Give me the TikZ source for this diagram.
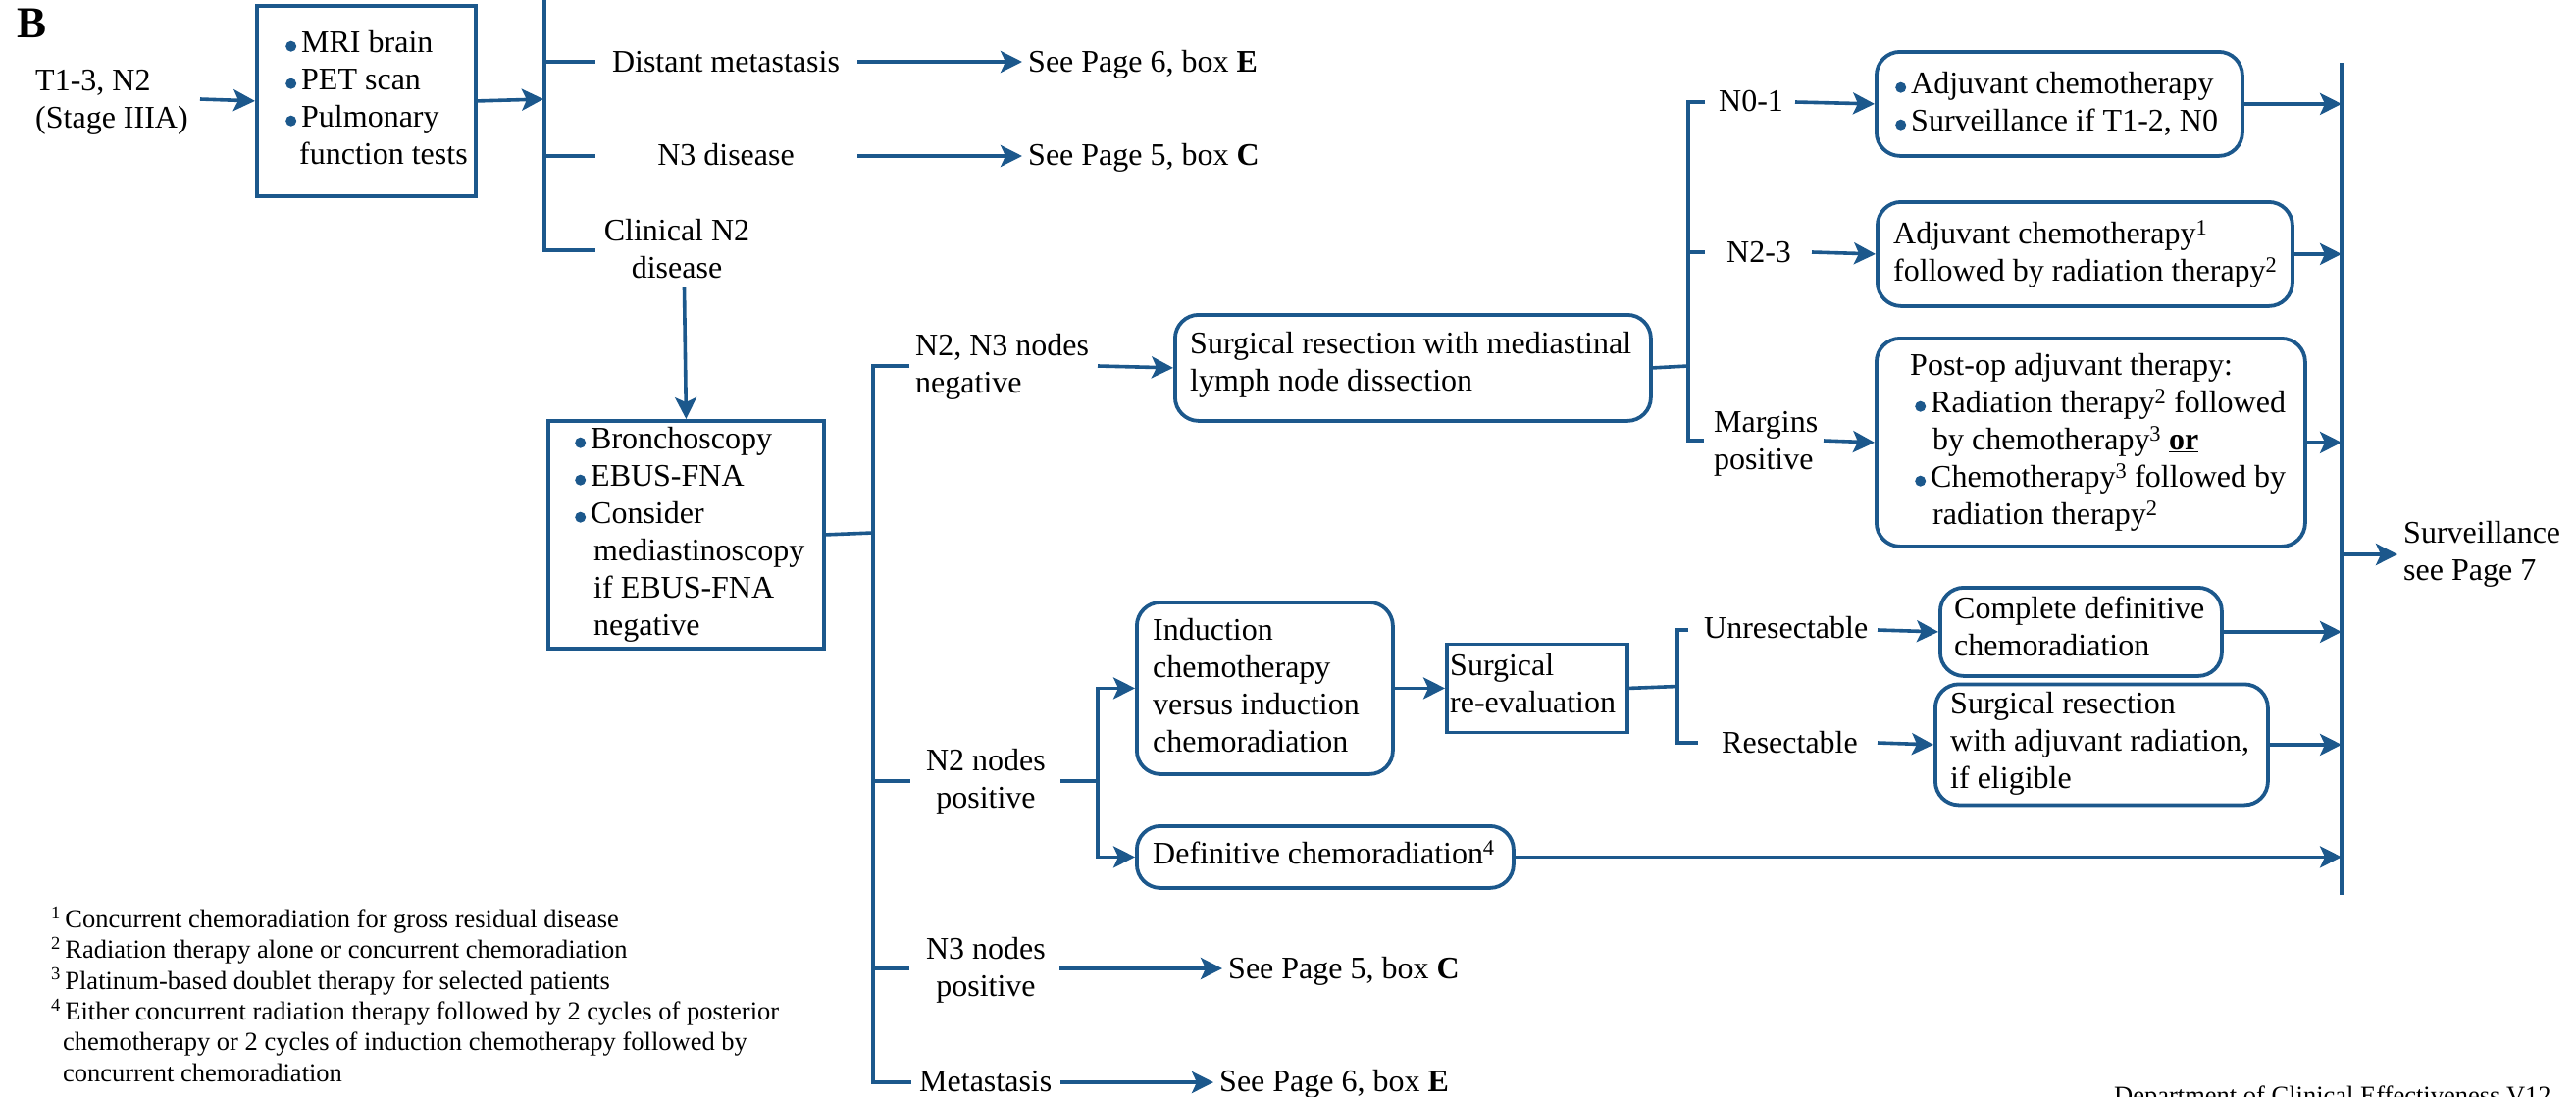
\documentclass[tikz,border=0pt]{standalone}
\usepackage{fontspec}
\setmainfont{Liberation Serif}
\usetikzlibrary{arrows.meta}
\definecolor{nccn}{RGB}{28,88,140}
\newcommand\mainfs{\fontsize{32}{38}\selectfont}
\newcommand\notefs{\fontsize{26.5}{31.4}\selectfont}
\newcommand\mystrut{\rule{0pt}{30pt}}
\newcommand\notestrut{\rule{0pt}{24pt}}
\newcommand\nbul{\tikz[baseline=0pt]\fill[nccn] (5.5pt,6pt) circle[radius=5.5pt];\hspace{5pt}}
\begin{document}
\begin{tikzpicture}[x=1pt,y=-1pt,
  ln/.style={draw=nccn,line width=3.6pt},
  arr/.style={ln,-{Stealth[length=22pt,width=22pt,inset=5pt]}},
  sqbox/.style={draw=nccn,line width=3.8pt,rectangle,inner sep=0pt,anchor=north west},
  rbox/.style={sqbox,rounded corners=24pt},
  txt/.style={inner sep=0pt,font=\mainfs,align=left,anchor=north west},
  ctxt/.style={inner sep=0pt,font=\mainfs,align=center,anchor=north},
  lbl/.style={inner sep=0pt,font=\mainfs,anchor=base west},
  clbl/.style={inner sep=0pt,font=\mainfs,anchor=base},
  see/.style={inner xsep=6pt,inner ysep=0pt,font=\mainfs,anchor=base west},
]
\useasboundingbox (0,0) rectangle (2626,1117);
\clip (0,0) rectangle (2626,1117);

% title letter
\node[inner sep=0pt,font=\fontsize{45}{50}\selectfont\bfseries,anchor=base west] (lbB) at (17,38) {B};

% start and first box
\node[txt] (start) at (36,62) {\mystrut T1-3, N2\\(Stage IIIA)};
\node[sqbox,minimum width=223pt,minimum height=194pt] (b1) at (260,4) {};
\node[txt] (b1t) at (291,23) {\mystrut\nbul MRI brain\\\nbul PET scan\\\nbul Pulmonary\\\hspace*{14pt}function tests};
\coordinate (a0) at (204,101);
\draw[arr] (a0) -- (b1.west);

% bracket 1
\coordinate (br1t) at (555,0);
\coordinate (br1) at (554,101);
\coordinate (s1) at (607,63);
\coordinate (s2) at (607,159);
\coordinate (s3) at (607,255);
\draw[arr] (b1.east) -- (br1);
\draw[ln] (br1t) -- (br1t |- s3) -- (s3);
\draw[ln] (s1 -| br1t) -- (s1);
\draw[ln] (s2 -| br1t) -- (s2);

\node[clbl] (dm) at (740,73) {Distant metastasis};
\node[clbl] (n3d) at (740,168) {N3 disease};
\coordinate (a1) at (874,63);
\coordinate (a2) at (874,159);
\node[see] (p6a) at (1042,73) {See Page 6, box \textbf{E}};
\node[see] (p5a) at (1042,168) {See Page 5, box \textbf{C}};
\draw[arr] (a1) -- (a1 -| p6a.west);
\draw[arr] (a2) -- (a2 -| p5a.west);

% clinical N2
\node[ctxt] (cn2) at (690,215) {\mystrut Clinical N2\\disease};
\node[sqbox,minimum width=281pt,minimum height=232pt] (b2) at (557,427) {};
\coordinate (cn2b) at (697.5,293);
\draw[arr] (cn2b) -- (b2.north);
\node[txt] (b2t) at (586,427) {\mystrut\nbul Bronchoscopy\\\nbul EBUS-FNA\\\nbul Consider\\\hspace*{19pt}mediastinoscopy\\\hspace*{19pt}if EBUS-FNA\\\hspace*{19pt}negative};

% bracket 2
\coordinate (br2) at (890,543);
\draw[ln] (b2.east) -- (br2);
\coordinate (t1) at (927,373);
\coordinate (t2) at (928,796);
\coordinate (t3) at (927,987);
\coordinate (t4) at (929,1103);
\draw[ln] (t1) -- (t1 -| br2) -- (t4 -| br2) -- (t4);
\draw[ln] (t2 -| br2) -- (t2);
\draw[ln] (t3 -| br2) -- (t3);

% N2, N3 negative branch
\node[txt] (neg) at (933,332) {\mystrut N2, N3 nodes\\negative};
\node[rbox,minimum width=485pt,minimum height=108pt] (surg) at (1196,319) {};
\node[txt] (surgt) at (1213,330) {\mystrut Surgical resection with mediastinal\\lymph node dissection};
\coordinate (c1) at (1119,373);
\draw[arr] (c1) -- (surg.west);

% bracket 3
\coordinate (br3) at (1721,373);
\draw[ln] (surg.east) -- (br3);
\coordinate (v1) at (1738,104);
\coordinate (v2) at (1738,257);
\coordinate (v3) at (1737,449);
\draw[ln] (v1) -- (v1 -| br3) -- (v3 -| br3) -- (v3);
\draw[ln] (v2 -| br3) -- (v2);
\node[lbl] (n01) at (1752,113) {N0-1};
\node[lbl] (n23) at (1760,267) {N2-3};
\node[txt] (mp) at (1747,410) {\mystrut Margins\\positive};

\node[rbox,minimum width=373pt,minimum height=106pt] (bA) at (1911,51) {};
\node[txt] (bAt) at (1932,65) {\mystrut\nbul Adjuvant chemotherapy\\\nbul Surveillance if T1-2, N0};
\node[rbox,minimum width=423pt,minimum height=106pt] (bB) at (1912,204) {};
\node[txt] (bBt) at (1930,218) {\mystrut Adjuvant chemotherapy\textsuperscript{1}\\followed by radiation therapy\textsuperscript{2}};
\node[rbox,minimum width=437pt,minimum height=212pt] (bC) at (1911,343) {};
\node[txt] (bCt) at (1947,352) {\mystrut Post-op adjuvant therapy:\\\hspace*{5pt}\nbul Radiation therapy\textsuperscript{2} followed\\\hspace*{23pt}by chemotherapy\textsuperscript{3} \textbf{\underline{or}}\\\hspace*{5pt}\nbul Chemotherapy\textsuperscript{3} followed by\\\hspace*{23pt}radiation therapy\textsuperscript{2}};
\coordinate (w1) at (1830,104);
\coordinate (w2) at (1847,257);
\coordinate (w3) at (1859,449);
\draw[arr] (w1) -- (bA.west);
\draw[arr] (w2) -- (bB.west);
\draw[arr] (w3) -- (bC.west);

% N2 nodes positive branch
\node[ctxt] (pos) at (1005,755) {\mystrut N2 nodes\\positive};
\coordinate (c2) at (1081,796);
\coordinate (c2j) at (1119,796);
\node[rbox,minimum width=261pt,minimum height=175pt] (ind) at (1157,612) {};
\node[txt] (indt) at (1175,622) {\mystrut Induction\\chemotherapy\\versus induction\\chemoradiation};
\node[rbox,minimum width=384pt,minimum height=63pt] (def) at (1157,840) {};
\node[txt] (deft) at (1175,850) {\mystrut Definitive chemoradiation\textsuperscript{4}};
\draw[ln] (c2) -- (c2j);
\draw[arr] (c2j) -- (c2j |- ind.west) -- (ind.west);
\draw[arr] (c2j) -- (c2j |- def.west) -- (def.west);

\node[sqbox,minimum width=184pt,minimum height=90pt] (re) at (1473,654.5) {};
\node[txt] (ret) at (1478,658) {\mystrut Surgical\\re-evaluation};
\draw[arr] (ind.east) -- (re.west);

% bracket 4
\coordinate (br4) at (1710,699.5);
\draw[ln] (re.east) -- (br4);
\coordinate (u1) at (1721,642);
\coordinate (u2) at (1731,757);
\draw[ln] (u1) -- (u1 -| br4) -- (u2 -| br4) -- (u2);
\node[lbl] (unr) at (1737,650) {Unresectable};
\node[lbl] (res) at (1755,767) {Resectable};
\node[rbox,minimum width=287pt,minimum height=90pt] (cd) at (1976,597) {};
\node[txt] (cdt) at (1992,600) {\mystrut Complete definitive\\chemoradiation};
\node[rbox,minimum width=339pt,minimum height=123pt] (sr) at (1971,695.5) {};
\node[txt] (srt) at (1988,697) {\mystrut Surgical resection\\with adjuvant radiation,\\if eligible};
\coordinate (u1a) at (1914,642);
\coordinate (u2a) at (1914,757);
\draw[arr] (u1a) -- (cd.west);
\draw[arr] (u2a) -- (sr.west);

% right collector bar
\coordinate (rbt) at (2387,64);
\coordinate (rbb) at (2387,912);
\draw[ln] (rbt) -- (rbb);
\draw[arr] (bA.east) -- (bA.east -| rbt);
\draw[arr] (bB.east) -- (bB.east -| rbt);
\draw[arr] (bC.east) -- (bC.east -| rbt);
\draw[arr] (cd.east) -- (cd.east -| rbt);
\draw[arr] (sr.east) -- (sr.east -| rbt);
\draw[arr] (def.east) -- (def.east -| rbt);
\coordinate (sv) at (2387,565);
\node[txt] (surv) at (2450,523) {\mystrut Surveillance\\see Page 7};
\draw[arr,shorten >=6pt] (sv) -- (sv -| surv.west);

% N3 nodes positive / metastasis
\node[ctxt] (n3p) at (1005,947) {\mystrut N3 nodes\\positive};
\coordinate (t3a) at (1080,987);
\node[see] (p5b) at (1246,997) {See Page 5, box \textbf{C}};
\draw[arr] (t3a) -- (t3a -| p5b.west);
\node[lbl] (met) at (937,1112) {Metastasis};
\coordinate (t4a) at (1081,1103);
\node[see] (p6b) at (1237,1112) {See Page 6, box \textbf{E}};
\draw[arr] (t4a) -- (t4a -| p6b.west);

% footnotes
\node[inner sep=0pt,font=\notefs,align=left,anchor=north west] (notes) at (52,921) {\notestrut\textsuperscript{1}\,Concurrent chemoradiation for gross residual disease\\\textsuperscript{2}\,Radiation therapy alone or concurrent chemoradiation\\\textsuperscript{3}\,Platinum-based doublet therapy for selected patients\\\textsuperscript{4}\,Either concurrent radiation therapy followed by 2 cycles of posterior\\\hspace*{12pt}chemotherapy or 2 cycles of induction chemotherapy followed by\\\hspace*{12pt}concurrent chemoradiation};

\node[inner sep=0pt,font=\notefs,anchor=base west] (dept) at (2155,1125) {Department of Clinical Effectiveness V12};
\end{tikzpicture}
\end{document}
